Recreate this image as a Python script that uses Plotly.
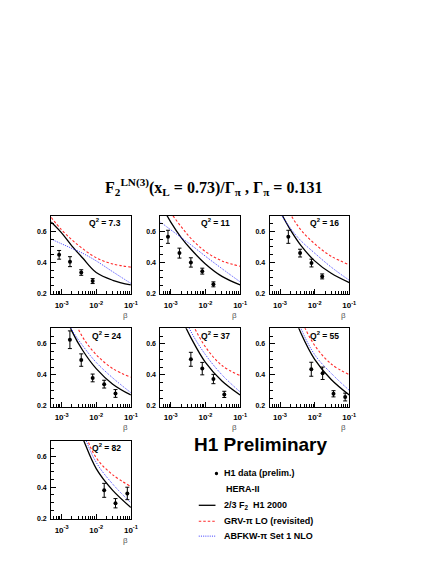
import plotly.graph_objects as go

W, H = 436, 564

Q2_LABELS = ["7.3", "11", "16", "24", "37", "55", "82"]

# H1 data points per Q2 bin: beta, F2 and total error
DATA_BETA = [
    [0.00085, 0.00175, 0.0037, 0.0079],
    [0.00083, 0.00178, 0.0038, 0.0081, 0.017],
    [0.00174, 0.0038, 0.0081, 0.0165],
    [0.00174, 0.0037, 0.0079, 0.017, 0.036],
    [0.0038, 0.0081, 0.017, 0.035],
    [0.008, 0.017, 0.035, 0.076],
    [0.017, 0.036, 0.079],
]
DATA_F2 = [
    [0.449, 0.405, 0.335, 0.28],
    [0.565, 0.46, 0.40, 0.344, 0.259],
    [0.565, 0.46, 0.396, 0.31],
    [0.626, 0.495, 0.38, 0.34, 0.28],
    [0.50, 0.44, 0.373, 0.274],
    [0.436, 0.41, 0.278, 0.257],
    [0.38, 0.297, 0.36],
]
DATA_ERR = [
    [0.028, 0.032, 0.018, 0.016],
    [0.042, 0.032, 0.03, 0.019, 0.016],
    [0.042, 0.025, 0.025, 0.016],
    [0.057, 0.04, 0.025, 0.025, 0.025],
    [0.045, 0.04, 0.03, 0.02],
    [0.045, 0.04, 0.02, 0.025],
    [0.045, 0.03, 0.04],
]

# model curves read at these beta values
BETA_GRID = [0.0005, 0.001, 0.002, 0.004, 0.01, 0.03, 0.1]
H1_2000 = [
    [0.66, 0.59, 0.505, 0.43, 0.335, 0.285, 0.255],
    [0.78, 0.66, 0.56, 0.48, 0.39, 0.31, 0.255],
    [0.86, 0.73, 0.61, 0.51, 0.41, 0.33, 0.27],
    [1.0, 0.84, 0.68, 0.56, 0.44, 0.34, 0.27],
    [1.2, 0.95, 0.77, 0.63, 0.48, 0.36, 0.27],
    [1.4, 1.05, 0.84, 0.67, 0.50, 0.37, 0.27],
    [1.5, 1.1, 0.88, 0.72, 0.52, 0.38, 0.27],
]
GRV_LO = [
    [0.69, 0.61, 0.545, 0.49, 0.43, 0.39, 0.37],
    [0.82, 0.72, 0.63, 0.55, 0.47, 0.41, 0.375],
    [0.98, 0.84, 0.71, 0.61, 0.52, 0.44, 0.385],
    [1.15, 0.95, 0.79, 0.645, 0.53, 0.44, 0.385],
    [1.35, 1.1, 0.9, 0.74, 0.58, 0.46, 0.395],
    [1.6, 1.2, 0.95, 0.76, 0.59, 0.47, 0.40],
    [1.7, 1.3, 1.0, 0.79, 0.59, 0.48, 0.405],
]
ABFKW_NLO = [
    [0.55, 0.52, 0.49, 0.46, 0.41, 0.34, 0.265],
    [0.66, 0.61, 0.56, 0.51, 0.44, 0.36, 0.275],
    [0.83, 0.72, 0.62, 0.54, 0.46, 0.37, 0.285],
    [1.0, 0.85, 0.69, 0.59, 0.48, 0.38, 0.285],
    [1.25, 1.0, 0.82, 0.67, 0.53, 0.40, 0.29],
    [1.5, 1.1, 0.88, 0.70, 0.53, 0.41, 0.30],
    [1.6, 1.2, 0.94, 0.76, 0.56, 0.42, 0.30],
]

X_TICKS = [1e-3, 1e-2, 1e-1]
X_TICKTEXT = ["<b>10<sup>-3</sup></b>", "<b>10<sup>-2</sup></b>", "<b>10<sup>-1</sup></b>"]

COL_PX = [(52, 133), (163, 244), (274, 355)]
ROW_PX = [(217, 296), (330, 409), (443, 522)]
FONT = "Liberation Sans"
RED = "#ff2a2a"
BLUE = "#3a3aff"
RED_DASH = "2.5px,2px"
BLUE_DOT = "1px,1.2px"


def px(x):
    return x / W


def py(y):
    return 1 - y / H


fig = go.Figure()
minor_x = [k * 10.0 ** e for e in (-4, -3, -2) for k in range(2, 10)]

for i, q2 in enumerate(Q2_LABELS):
    row, col = divmod(i, 3)
    n = "" if i == 0 else str(i + 1)
    xa, ya = "x" + n, "y" + n
    (x0, x1), (y0, y1) = COL_PX[col], ROW_PX[row]

    curves = [
        (H1_2000[i], dict(color="black", width=1.3, dash="solid")),
        (ABFKW_NLO[i], dict(color=BLUE, width=1, dash=BLUE_DOT)),
        (GRV_LO[i], dict(color=RED, width=1.1, dash=RED_DASH)),
    ]
    for values, line in curves:
        fig.add_trace(go.Scatter(
            x=BETA_GRID, y=values, mode="lines", xaxis=xa, yaxis=ya,
            line=dict(shape="spline", smoothing=1.0, **line), showlegend=False,
        ))
    fig.add_trace(go.Scatter(
        x=DATA_BETA[i], y=DATA_F2[i], mode="markers", xaxis=xa, yaxis=ya,
        marker=dict(color="black", size=4),
        error_y=dict(type="data", array=DATA_ERR[i], color="black", thickness=1, width=2),
        showlegend=False,
    ))

    axis_common = dict(
        showline=True, mirror=True, linecolor="black", linewidth=1,
        showgrid=False, zeroline=False, ticks="inside", ticklen=5, tickcolor="black",
    )
    fig.update_layout({
        "xaxis" + n: dict(
            domain=[px(x0), px(x1)], anchor=ya, type="log", range=[-3.3, -1],
            tickmode="array", tickvals=X_TICKS, ticktext=X_TICKTEXT,
            tickfont=dict(family=FONT, size=8, color="black"), ticklabelstandoff=3,
            minor=dict(ticks="inside", ticklen=3, tickcolor="black", tickmode="array", tickvals=minor_x),
            **axis_common,
        ),
        "yaxis" + n: dict(
            domain=[py(y1), py(y0)], anchor=xa, range=[0.194, 0.7],
            tickmode="array", tickvals=[0.2, 0.4, 0.6], ticktext=["0.2", "0.4", "0.6"],
            tickfont=dict(family=FONT, size=7, color="black", weight="bold"), ticklabelstandoff=2,
            minor=dict(ticks="inside", ticklen=3, tickcolor="black", dtick=0.05, tick0=0),
            **axis_common,
        ),
    })

    fig.add_annotation(
        x=px(x1 - 8), y=py(y0 + 7), xref="paper", yref="paper", xanchor="right", yanchor="middle",
        text="<b>Q<sup>2</sup> = %s</b>" % q2, showarrow=False,
        font=dict(family=FONT, size=8.5, color="black"),
    )
    fig.add_annotation(
        x=px(x1 - 1), y=py(y1 + 21), xref="paper", yref="paper", xanchor="right", yanchor="middle",
        text="β", showarrow=False, font=dict(family=FONT, size=8, color="#555555"),
    )

# title
fig.add_annotation(
    x=px(217), y=py(188), xref="paper", yref="paper", xanchor="center", yanchor="middle",
    text="<b>F<sub>2</sub><sup>LN(3)</sup>(x<sub>L</sub> = 0.73)/Γ<sub>π</sub> , Γ<sub>π</sub> = 0.131</b>",
    showarrow=False, font=dict(family="Liberation Serif", size=16, color="black"),
)
fig.add_annotation(
    x=px(195), y=py(447), xref="paper", yref="paper", xanchor="left", yanchor="middle",
    text="<b>H1 Preliminary</b>", showarrow=False, font=dict(family=FONT, size=19, color="black"),
)

# legend
legend_rows = [
    (476, "<b>H1 data (prelim.)</b>", 226),
    (492, "<b>HERA-II</b>", 228),
    (508, "<b>2/3 F<sub>2</sub>  H1 2000</b>", 226),
    (524, "<b>GRV-π LO (revisited)</b>", 226),
    (539, "<b>ABFKW-π Set 1 NLO</b>", 226),
]
for y, text, x in legend_rows:
    fig.add_annotation(
        x=px(x), y=py(y), xref="paper", yref="paper", xanchor="left", yanchor="middle",
        text=text, showarrow=False, font=dict(family=FONT, size=9, color="black"),
    )
fig.add_shape(type="circle", xref="paper", yref="paper",
              x0=px(218.3), x1=px(221.7), y0=py(477.7), y1=py(474.3),
              fillcolor="black", line=dict(color="black", width=0))
fig.add_shape(type="line", xref="paper", yref="paper", x0=px(202), x1=px(219), y0=py(508), y1=py(508),
              line=dict(color="black", width=1.3))
fig.add_shape(type="line", xref="paper", yref="paper", x0=px(202), x1=px(219), y0=py(524), y1=py(524),
              line=dict(color=RED, width=1.1, dash=RED_DASH))
fig.add_shape(type="line", xref="paper", yref="paper", x0=px(202), x1=px(219), y0=py(539), y1=py(539),
              line=dict(color=BLUE, width=1, dash=BLUE_DOT))

fig.update_layout(
    width=W, height=H, margin=dict(l=0, r=0, t=0, b=0),
    paper_bgcolor="white", plot_bgcolor="white",
)
# drop the default page margin so the figure sits at the window origin
fig.write_html(
    "out.html",
    config={"displayModeBar": False},
    post_script="document.body.style.margin = '0px';",
)
